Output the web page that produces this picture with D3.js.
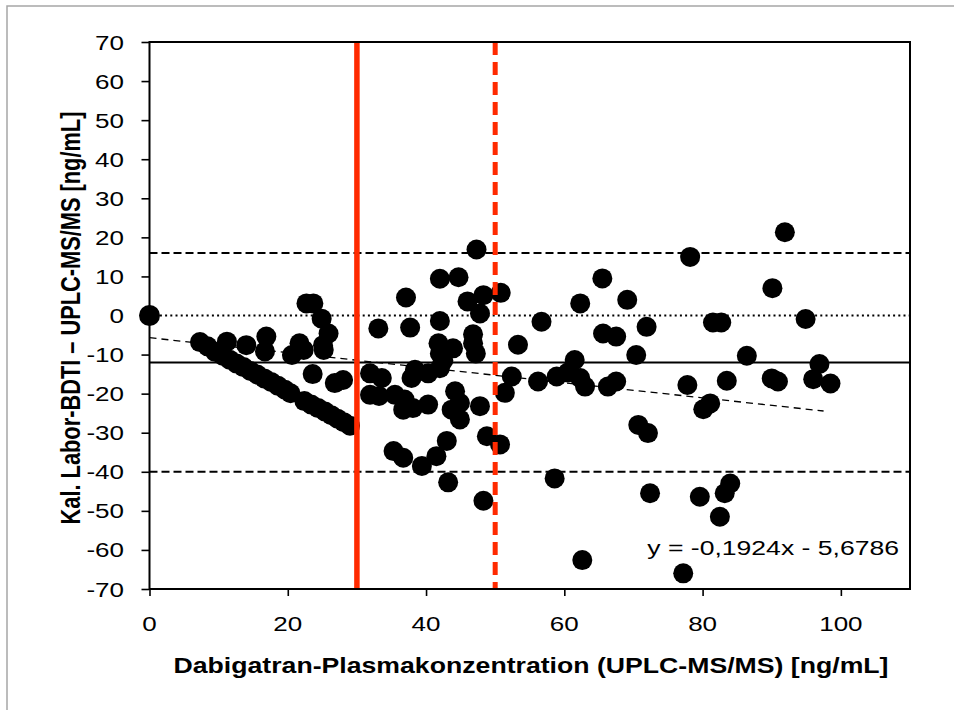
<!DOCTYPE html>
<html>
<head>
<meta charset="utf-8">
<script src="https://cdn.jsdelivr.net/npm/d3@7"></script>
<style>
  body { margin: 0; background: #fff; }
  text { font-family: Arial, "Liberation Sans", sans-serif; }
</style>
</head>
<body>
<svg id="chart" width="954" height="710"></svg>
<script>
var xVals = [0,
  7.3, 8.4, 9.5, 10.6, 11.6, 12.6, 13.6, 14.6, 15.6, 16.6, 17.6, 18.6, 19.6, 20.4,
  22.4, 23.4, 24.4, 25.4, 26.3, 27.2, 28.1, 29.0,
  11.2, 14.0, 16.9, 16.7, 20.6, 21.7, 22.3, 22.7, 23.7, 24.9, 25.9, 25.1, 25.2, 23.6, 26.8, 28.0,
  31.9, 33.6, 33.1, 31.9, 33.2, 35.5, 36.9, 36.7, 38.1, 40.3, 37.1, 37.7, 37.9, 38.4, 40.3,
  35.3, 36.7, 39.4, 41.5, 43.0, 43.2, 42.0, 44.7, 42.0, 41.8, 43.9, 42.0, 42.0, 42.5,
  44.2, 43.7, 44.9, 44.9, 47.8, 46.0, 47.3, 48.3, 47.8, 46.8, 46.8, 47.2, 48.3, 48.8, 50.7, 50.8,
  53.3, 52.4, 51.4,
  56.2, 58.9, 56.7, 58.6, 61.5, 60.5, 62.3, 63.0, 62.3, 62.6, 65.5, 65.6, 67.5, 66.3, 67.5, 69.1,
  70.4, 71.9, 70.7, 72.1, 72.4, 78.2, 77.8, 77.2, 79.6, 80.1, 81.1, 81.5, 82.7, 82.5, 83.2, 84.0,
  83.5, 86.4, 90.1, 91.9, 90.0, 90.9, 94.9, 96.9, 96.0, 98.5];

var yVals = [0,
  -6.8, -7.9, -9.3, -10.3, -11.3, -12.3, -13.2, -14.2, -15.1, -16.1, -17.0, -18.0, -19.0, -19.9,
  -21.9, -22.8, -23.7, -24.6, -25.5, -26.4, -27.3, -28.2,
  -6.7, -7.6, -5.4, -9.2, -10.1, -7.1, -8.8, 3.1, 3.1, -0.8, -4.6, -7.6, -8.8, -15.0, -17.3, -16.5,
  -14.8, -16.0, -3.3, -20.3, -20.6, -20.3, -21.5, -24.1, -23.7, -22.8, 4.6, -3.1, -16.0, -13.9, -14.8,
  -34.7, -36.4, -38.5, -36.0, -32.1, -42.7, 9.4, 9.8, -1.4, -7.1, -8.4, -9.7, -13.5, -11.5,
  -19.4, -24.1, -26.6, -22.4, -23.2, 3.6, 16.9, 5.2, 0.5, -4.8, -7.1, -9.7, -47.4, -30.9, -33.0, 5.8,
  -7.5, -15.6, -19.8,
  -16.9, -15.6, -1.6, -41.7, -11.4, -14.6, -16.0, -18.2, 3.1, -62.6, 9.5, -4.6, -5.4, -18.2, -16.9, 4.0,
  -10.1, -2.9, -28.0, -30.1, -45.5, 15.0, -17.8, -66.0, -46.4, -24.0, -22.5, -1.8, -1.8, -51.5, -45.5, -43.0,
  -16.7, -10.3, 7.0, 21.3, -16.1, -16.9, -0.9, -12.4, -16.3, -17.4];

var yTicks = [-70, -60, -50, -40, -30, -20, -10, 0, 10, 20, 30, 40, 50, 60, 70];
var xTicks = [0, 20, 40, 60, 80, 100];

var meanDiff = -12, upperLoA = 16, lowerLoA = -40;
var slope = -0.1924, intercept = -5.6786, fitMaxX = 97.5;
var redSolidX = 30, redDashX = 50;

var xTitle = "Dabigatran-Plasmakonzentration (UPLC-MS/MS) [ng/mL]";
var yTitle = "Kal. Labor-BDTI \u2013 UPLC-MS/MS [ng/mL]";
var eqLabel = "y = -0,1924x - 5,6786";

var STRETCH = 1.24; // the original image is widened horizontally
var RED = "#ff2a00";

var svg = d3.select("#chart");

// outer light frame
svg.append("rect")
    .attr("x", 7).attr("y", 6).attr("width", 1000).attr("height", 800)
    .attr("fill", "none").attr("stroke", "#a6a6a6").attr("stroke-width", 1.5);

var x = d3.scaleLinear().domain([0, 110]).range([149.5, 910]);
var y = d3.scaleLinear().domain([-70, 70]).range([589, 42]);

var pts = xVals.map(function(d, i){ return {x: d, y: yVals[i]} });

// points
svg.append("g").selectAll("circle")
    .data(pts).enter().append("circle")
    .attr("cx", function(d){ return x(d.x) })
    .attr("cy", function(d){ return y(d.y) })
    .attr("r", function(d, i){ return i == 0 ? 10.5 : 10 })
    .attr("fill", "#000");

function hline(v, dash, w){
    svg.append("line")
        .attr("x1", x(0)).attr("x2", x(110))
        .attr("y1", y(v)).attr("y2", y(v))
        .attr("stroke", "#000").attr("stroke-width", w)
        .attr("stroke-dasharray", dash);
}
hline(0, "2,3.2", 2);
hline(upperLoA, "8,4", 2);
hline(lowerLoA, "8,4", 2);
hline(meanDiff, null, 2);

// regression line
svg.append("line")
    .attr("x1", x(0)).attr("y1", y(intercept))
    .attr("x2", x(fitMaxX)).attr("y2", y(slope * fitMaxX + intercept))
    .attr("stroke", "#000").attr("stroke-width", 1.3)
    .attr("stroke-dasharray", "7,5");

// red verticals on top
svg.append("line")
    .attr("x1", x(redSolidX)).attr("x2", x(redSolidX))
    .attr("y1", y(70)).attr("y2", y(-70))
    .attr("stroke", RED).attr("stroke-width", 5.5);
svg.append("line")
    .attr("x1", x(redDashX)).attr("x2", x(redDashX))
    .attr("y1", y(70)).attr("y2", y(-70))
    .attr("stroke", RED).attr("stroke-width", 5)
    .attr("stroke-dasharray", "13,7");

// plot frame
svg.append("rect")
    .attr("x", x(0)).attr("y", y(70))
    .attr("width", x(110) - x(0)).attr("height", y(-70) - y(70))
    .attr("fill", "none").attr("stroke", "#000").attr("stroke-width", 2);

// axes
var yAxis = svg.append("g")
    .attr("transform", "translate(" + x(0) + ",0)")
    .call(d3.axisLeft(y).tickValues(yTicks).tickSize(8).tickFormat(""));
var xAxis = svg.append("g")
    .attr("transform", "translate(0," + y(-70) + ")")
    .call(d3.axisBottom(x).tickValues(xTicks).tickSize(7).tickFormat(""));
[yAxis, xAxis].forEach(function(a){
    a.select(".domain").remove();
    a.selectAll("line").attr("stroke", "#000").attr("stroke-width", 1.6);
});

// tick labels (stretched like the source)
svg.append("g").selectAll("text")
    .data(yTicks).enter().append("text")
    .attr("transform", function(d){ return "translate(124," + (y(d) + 7.5) + ") scale(" + STRETCH + ",1)" })
    .attr("text-anchor", "end")
    .attr("font-size", 21)
    .text(function(d){ return d });

svg.append("g").selectAll("text")
    .data(xTicks).enter().append("text")
    .attr("transform", function(d){ return "translate(" + x(d) + ",631) scale(" + STRETCH + ",1)" })
    .attr("text-anchor", "middle")
    .attr("font-size", 21)
    .text(function(d){ return d });

// titles
svg.append("text")
    .attr("transform", "translate(531,673) scale(" + STRETCH + ",1)")
    .attr("text-anchor", "middle")
    .attr("font-size", 21.5).attr("font-weight", "bold")
    .text(xTitle);

svg.append("text")
    .attr("transform", "translate(80,318) rotate(-90) scale(1," + STRETCH + ")")
    .attr("text-anchor", "middle")
    .attr("font-size", 21.8).attr("font-weight", "bold")
    .text(yTitle);

// regression equation
svg.append("text")
    .attr("transform", "translate(899,555) scale(1.265,1)")
    .attr("text-anchor", "end")
    .attr("font-size", 21)
    .text(eqLabel);
</script>
</body>
</html>
